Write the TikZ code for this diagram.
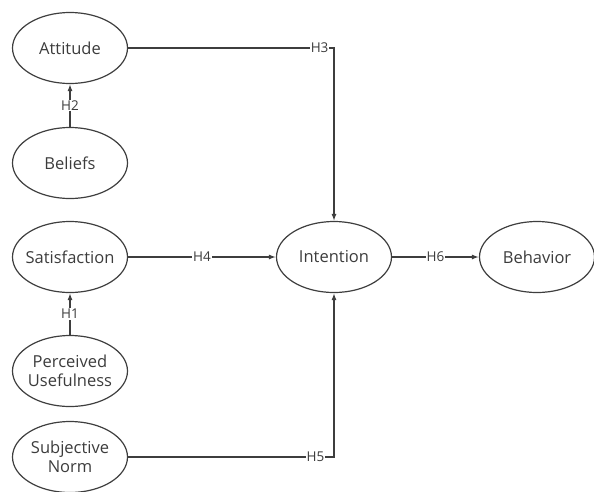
\documentclass[tikz,border=0pt]{standalone}
\usepackage{fontspec}
\setmainfont{Open Sans}
\usetikzlibrary{shapes.geometric,arrows.meta}
\definecolor{linegray}{RGB}{62,62,62}
\definecolor{textgray}{RGB}{60,60,60}

\begin{document}
\begin{tikzpicture}[x=1pt,y=-1pt,
    construct/.style={draw=linegray, line width=1.2pt, ellipse, minimum width=115pt,
        minimum height=71pt, inner xsep=-12pt, inner ysep=0pt, align=center, text=textgray,
        font=\fontsize{16.5}{19.5}\selectfont},
    hyp/.style={fill=white, inner sep=1pt, text=textgray, font=\fontsize{13.5}{15}\selectfont},
    link/.style={draw=linegray, line width=1.2pt, -{Latex[length=7pt,width=5pt]}}]
    \useasboundingbox (0,0) rectangle (594,491);
    % left column of constructs
    \def\cx{70}
    \foreach \n/\y/\t in {att/48/Attitude, bel/163/Beliefs, sat/257/Satisfaction,
        pu/371/{Perceived\\Usefulness}, sn/457/{Subjective\\Norm}} {
        \node[construct] (\n) at (\cx, \y) {\t};
    }
    % outcome constructs
    \node[construct] (int) at (334, 257) {Intention};
    \node[construct] (beh) at (537, 257) {Behavior};
    % hypotheses
    \draw[link] (bel) -- node[hyp] {H2} (att);
    \draw[link] (pu) -- node[hyp] {H1} (sat);
    \draw[link] (sat) -- node[hyp] {H4} (int);
    \draw[link] (int) -- node[hyp] {H6} (beh);
    \draw[link] (att) -| node[hyp, pos=0.465] {H3} (int);
    \draw[link] (sn) -| node[hyp, pos=0.455] {H5} (int);
\end{tikzpicture}
\end{document}
